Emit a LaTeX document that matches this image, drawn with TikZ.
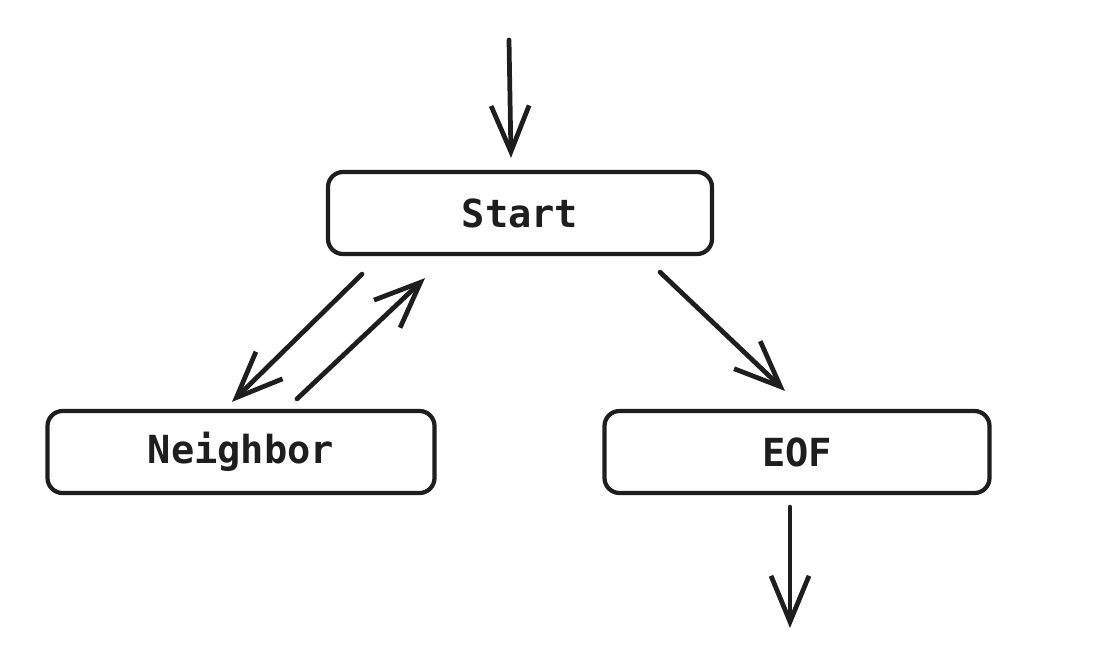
\documentclass[tikz,border=0pt]{standalone}
\usepackage{fontspec}
\setmonofont{DejaVu Sans Mono}
\usetikzlibrary{arrows.meta}
\definecolor{ink}{HTML}{1E1E1E}
\begin{document}
\begin{tikzpicture}[
  state/.style={draw=ink, line width=1.2pt, rounded corners=0.15cm, minimum height=0.82cm, minimum width=3.85cm, text=ink, font=\ttfamily\bfseries\fontsize{11}{13}\selectfont},
  arr/.style={draw=ink, line width=1.35pt, line cap=round, -{Straight Barb[length=4.6mm,width=3.8mm,line width=1.35pt]}}]
\useasboundingbox (0,0) rectangle (11,6.66);
\node[state, minimum width=3.84cm] (start) at (5.20,4.53) {Start};
\node[state, minimum width=3.87cm] (neighbor) at (2.41,2.14) {Neighbor};
\node[state] (eof) at (7.97,2.14) {EOF};
\coordinate (in) at (5.09,6.26);
\coordinate (out) at (7.90,0.38);
\draw[arr] (in) -- ([xshift=-0.09cm,yshift=0.12cm]start.north);
\draw[arr] ([xshift=-1.58cm,yshift=-0.18cm]start.south) -- ([xshift=-0.09cm,yshift=0.07cm]neighbor.north);
\draw[arr] ([xshift=0.56cm,yshift=0.10cm]neighbor.north) -- ([xshift=-0.95cm,yshift=-0.22cm]start.south);
\draw[arr] ([xshift=1.40cm,yshift=-0.16cm]start.south) -- ([xshift=-0.12cm,yshift=0.18cm]eof.north);
\draw[arr] ([xshift=-0.07cm,yshift=-0.12cm]eof.south) -- (out);
\end{tikzpicture}
\end{document}
